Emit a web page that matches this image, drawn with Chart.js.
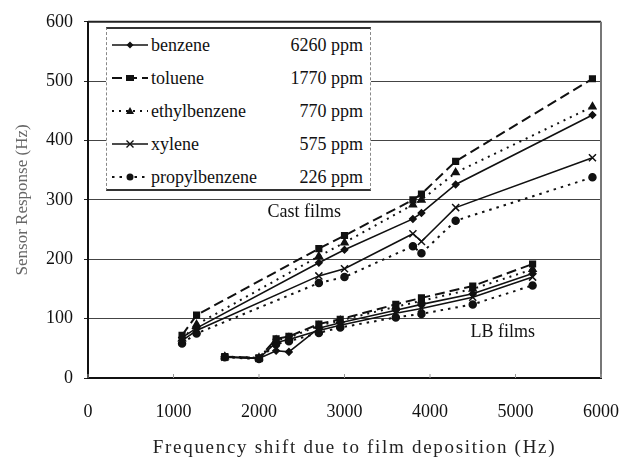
<!DOCTYPE html>
<html><head><meta charset="utf-8">
<script src="https://cdn.jsdelivr.net/npm/chart.js@4"></script>
<style>
html,body{margin:0;padding:0;background:#fff;}
#wrap{position:relative;width:642px;height:461px;}
#legend{position:absolute;left:106px;top:27px;width:265px;height:164px;background:#fff;border-top:2px solid #333;border-bottom:2px solid #333;border-left:1px dashed #888;border-right:1px dashed #888;box-sizing:border-box;font-family:"Liberation Serif","Times New Roman",Times,serif;font-size:18px;color:#111;}
.row{position:absolute;left:5px;right:7px;height:22px;display:flex;align-items:center;}
.row svg{width:36px;height:14px;flex:none;margin-right:3px;}
.row .n{flex:1;}
.row .c{text-align:right;}
.note{position:absolute;font-family:"Liberation Serif","Times New Roman",Times,serif;font-size:18px;color:#111;transform:translate(-50%,-50%);white-space:nowrap;}
.xtitle{position:absolute;font-family:"Liberation Serif","Times New Roman",Times,serif;font-size:19px;letter-spacing:1.7px;color:#222;transform:translate(-50%,-50%);white-space:nowrap;}
</style></head>
<body>
<div id="wrap">
<canvas id="c" width="642" height="461"></canvas>
<div id="legend"></div>
</div>
<script>
// ---- data ----
const seriesNames = ['benzene', 'toluene', 'ethylbenzene', 'xylene', 'propylbenzene'];
const concentrations = ['6260 ppm', '1770 ppm', '770 ppm', '575 ppm', '226 ppm'];

const xCast = [1100, 1270, 2700, 3000, 3800, 3900, 4300, 5900];
const benzeneCast = [68, 84, 194, 216, 268, 278, 326, 443];
const tolueneCast = [72, 106, 218, 240, 300, 310, 365, 504];
const ethylbenzeneCast = [66, 90, 205, 228, 292, 300, 346, 457];
const xyleneCast = [63, 80, 172, 184, 243, 230, 287, 371];
const propylbenzeneCast = [58, 75, 160, 170, 222, 210, 265, 338];

const xLB = [1600, 2000, 2200, 2350, 2700, 2950, 3600, 3900, 4500, 5200];
const benzeneLB = [36, 33, 46, 44, 84, 93, 114, 124, 142, 176];
const tolueneLB = [36, 34, 66, 70, 91, 99, 124, 135, 155, 192];
const ethylbenzeneLB = [36, 34, 64, 68, 88, 97, 120, 130, 150, 183];
const xyleneLB = [35, 33, 60, 65, 80, 89, 109, 117, 136, 170];
const propylbenzeneLB = [35, 32, 57, 62, 76, 85, 102, 108, 124, 156];

const xTicks = [0, 1000, 2000, 3000, 4000, 5000, 6000];
const yTicks = [0, 100, 200, 300, 400, 500, 600];

const xTitle = 'Frequency shift due to film deposition (Hz)';
const yTitle = 'Sensor Response (Hz)';
const noteTexts = ['Cast films', 'LB films'];
const noteX = [2530, 4850];
const noteY = [281, 80];

// ---- styles ----
const castVals = [benzeneCast, tolueneCast, ethylbenzeneCast, xyleneCast, propylbenzeneCast];
const lbVals = [benzeneLB, tolueneLB, ethylbenzeneLB, xyleneLB, propylbenzeneLB];
const styles = [
  {dash: [], point: 'rectRot', r: 3.2, w: 1.6},
  {dash: [10, 5], point: 'rect', r: 4, w: 2},
  {dash: [2, 5], point: 'triangle', r: 4, w: 2},
  {dash: [], point: 'crossRot', r: 5, w: 1.6},
  {dash: [2.5, 5], point: 'circle', r: 3.5, w: 2}
];
const ink = '#111';
const serif = '"Liberation Serif", "Times New Roman", Times, serif';

const datasets = [];
[[xCast, castVals], [xLB, lbVals]].forEach(([xs, vals], g) => {
  vals.forEach((v, i) => {
    const s = styles[i];
    datasets.push({
      label: seriesNames[i] + (g ? ' (LB)' : ' (cast)'),
      data: xs.map((x, j) => ({x: x, y: v[j]})),
      showLine: true,
      borderColor: ink,
      backgroundColor: ink,
      borderWidth: s.w,
      borderDash: s.dash,
      pointStyle: s.point,
      pointRadius: s.r,
      pointBackgroundColor: ink,
      pointBorderColor: ink,
      pointBorderWidth: 1.5,
      tension: 0
    });
  });
});

const frame = {
  id: 'frame',
  afterDatasetsDraw(chart) {
    const {ctx, chartArea: a, scales} = chart;
    ctx.save();
    ctx.strokeStyle = '#222';
    ctx.lineWidth = 2;
    ctx.beginPath(); ctx.moveTo(a.left, a.top); ctx.lineTo(a.right, a.top); ctx.stroke();
    ctx.strokeStyle = '#777';
    ctx.beginPath(); ctx.moveTo(a.right, a.top); ctx.lineTo(a.right, a.bottom); ctx.stroke();
    ctx.strokeStyle = '#999'; ctx.lineWidth = 1;
    scales.x.ticks.forEach(t => {
      const px = scales.x.getPixelForValue(t.value);
      ctx.beginPath(); ctx.moveTo(px, a.bottom); ctx.lineTo(px, a.bottom - 4); ctx.stroke();
    });
    ctx.restore();
  },
  afterRender(chart) {
    const wrap = document.getElementById('wrap');
    wrap.querySelectorAll('.note,.xtitle').forEach(n => n.remove());
    noteTexts.forEach((t, i) => {
      const d = document.createElement('div');
      d.className = 'note';
      d.textContent = t;
      d.style.left = chart.scales.x.getPixelForValue(noteX[i]) + 'px';
      d.style.top = chart.scales.y.getPixelForValue(noteY[i]) + 'px';
      wrap.appendChild(d);
    });
    const a = chart.chartArea;
    const xt = document.createElement('div');
    xt.className = 'xtitle';
    xt.textContent = xTitle;
    xt.style.left = ((a.left + a.right) / 2 + 10) + 'px';
    xt.style.top = (a.bottom + 69) + 'px';
    wrap.appendChild(xt);
  }
};

const font = {family: serif, size: 18};
new Chart(document.getElementById('c'), {
  type: 'scatter',
  data: {datasets},
  options: {
    responsive: false,
    animation: false,
    devicePixelRatio: 1,
    layout: {padding: {top: 14, right: 21, left: 0, bottom: 0}},
    plugins: {legend: {display: false}, tooltip: {enabled: false}},
    scales: {
      x: {
        type: 'linear', min: 0, max: 6000,
        afterBuildTicks: s => { s.ticks = xTicks.map(v => ({value: v})); },
        afterFit: s => { s.height = 83; },
        grid: {display: false, drawTicks: false},
        border: {display: true, color: '#111', width: 2},
        ticks: {font, color: ink, padding: 23, maxRotation: 0, callback: v => String(v)},
        title: {display: false}
      },
      y: {
        min: 0, max: 600,
        afterBuildTicks: s => { s.ticks = yTicks.map(v => ({value: v})); },
        afterFit: s => { s.width = 88; },
        grid: {color: '#444', lineWidth: 1, tickLength: 4, drawTicks: true, tickColor: '#222'},
        border: {display: true, color: '#111', width: 2},
        ticks: {font, color: ink, padding: 11, callback: v => String(v)},
        title: {display: true, text: yTitle, font: {family: serif, size: 17}, color: '#666', padding: {top: 12, bottom: 4}}
      }
    }
  },
  plugins: [frame]
});

// legend (HTML)
const lg = document.getElementById('legend');
const rowTops = [5, 38, 71, 104, 137];
seriesNames.forEach((n, i) => {
  const s = styles[i];
  const row = document.createElement('div');
  row.className = 'row';
  row.style.top = rowTops[i] + 'px';
  let mk = '';
  const cx = 18, cy = 7;
  if (s.point === 'rectRot') mk = `<polygon points="${cx},${cy-3.5} ${cx+3.5},${cy} ${cx},${cy+3.5} ${cx-3.5},${cy}" fill="${ink}"/>`;
  else if (s.point === 'rect') mk = `<rect x="${cx-4}" y="${cy-3}" width="8" height="6" fill="${ink}"/>`;
  else if (s.point === 'triangle') mk = `<polygon points="${cx},${cy-4} ${cx+4},${cy+3} ${cx-4},${cy+3}" fill="${ink}"/>`;
  else if (s.point === 'crossRot') mk = `<path d="M${cx-3.5} ${cy-3.5}L${cx+3.5} ${cy+3.5}M${cx+3.5} ${cy-3.5}L${cx-3.5} ${cy+3.5}" stroke="${ink}" stroke-width="1.4"/>`;
  else mk = `<circle cx="${cx}" cy="${cy}" r="3.5" fill="${ink}"/>`;
  const dash = s.dash.length ? `stroke-dasharray="${s.dash.join(' ')}"` : '';
  row.innerHTML = `<svg viewBox="0 0 36 14"><line x1="0" y1="7" x2="36" y2="7" stroke="${ink}" stroke-width="${s.w}" ${dash}/>${mk}</svg><span class="n">${n}</span><span class="c">${concentrations[i]}</span>`;
  lg.appendChild(row);
});
</script>
</body></html>
